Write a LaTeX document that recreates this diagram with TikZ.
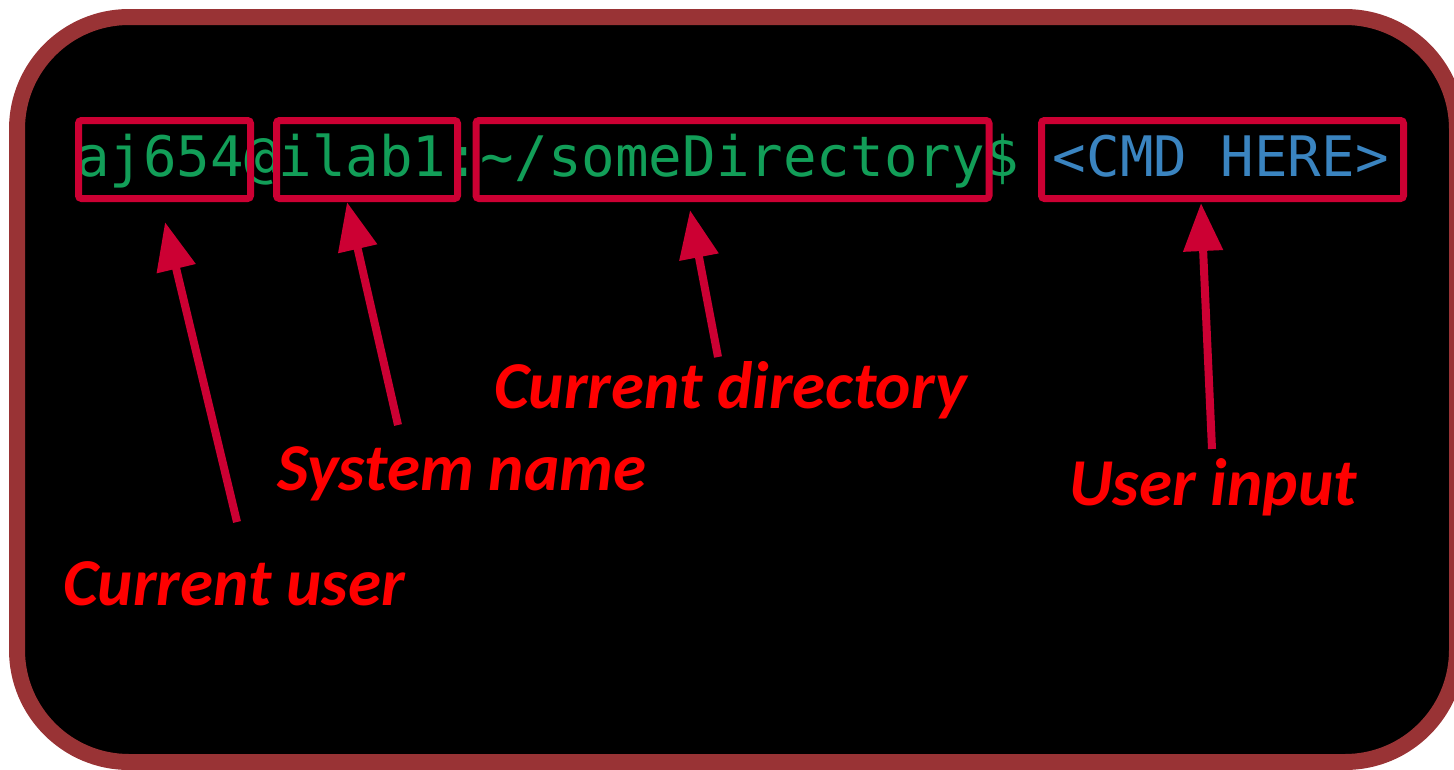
\documentclass[tikz,border=0pt]{standalone}
\usepackage{fontspec}
\usetikzlibrary{arrows.meta}
\newfontfamily\termfont{DejaVu Sans Mono}
\newfontfamily\lblfont{Carlito}
\definecolor{framered}{RGB}{153,51,53}
\definecolor{boxred}{RGB}{204,0,51}
\definecolor{termgreen}{RGB}{18,158,88}
\definecolor{cmdblue}{RGB}{58,132,192}
\begin{document}
\begin{tikzpicture}[x=1pt,y=-1pt,
	term/.style={inner sep=0pt, anchor=base west, text=termgreen,
		font=\termfont\fontsize{55.8}{60}\selectfont},
	redbox/.style={draw=boxred, line width=7pt, rounded corners=3pt},
	lbl/.style={inner sep=0pt, anchor=base west, text=red,
		font=\lblfont\bfseries\itshape\fontsize{67}{70}\selectfont},
	pointer/.style={draw=boxred, line width=8pt,
		-{Triangle[length=48pt,width=38pt]}}]
	\useasboundingbox (0,0) rectangle (1454,769);
	
	% terminal window
	\draw[draw=framered, fill=black, line width=16pt, rounded corners=112pt]
	(17,17) rectangle (1457,762);
	
	% prompt
	\node[term] (user) at (76,176) {aj654};
	\node[term] (at) at (user.base east) {@};
	\node[term] (host) at (at.base east) {ilab1};
	\node[term] (colon) at (host.base east) {:};
	\node[term] (dir) at (colon.base east) {\textasciitilde/someDirectory};
	\node[term] (dollar) at (dir.base east) {\$};
	\node[term, text=cmdblue, xshift=33.6pt] (cmd) at (dollar.base east) {<CMD HERE>};
	
	\node[redbox, minimum width=172pt, minimum height=78pt] (userbox) at (164.5,159.5) {};
	\node[redbox, minimum width=181pt, minimum height=78pt] (hostbox) at (367,159.5) {};
	\node[redbox, minimum width=513pt, minimum height=78pt] (dirbox) at (732.5,159.5) {};
	\node[redbox, minimum width=362pt, minimum height=78pt] (cmdbox) at (1222.5,159.5) {};
	
	% labels
	\node[lbl] (userlbl) at (63,605) {Current user};
	\node[lbl] (hostlbl) at (277,490) {System name};
	\node[lbl] (dirlbl) at (494,408) {Current directory};
	\node[lbl] (cmdlbl) at (1069,505) {User input};
	
	\coordinate (userTip) at (165,222);
	\coordinate (userTail) at (237,522);
	\coordinate (hostTip) at (347,202);
	\coordinate (hostTail) at (398,425);
	\coordinate (dirTip) at (690,210);
	\coordinate (dirTail) at (718,357);
	\coordinate (cmdTip) at (1201,203);
	\coordinate (cmdTail) at (1212,449);
	
	\draw[pointer] (userTail) -- (userTip);
	\draw[pointer] (hostTail) -- (hostTip);
	\draw[pointer] (dirTail) -- (dirTip);
	\draw[pointer] (cmdTail) -- (cmdTip);
	
\end{tikzpicture}
\end{document}
